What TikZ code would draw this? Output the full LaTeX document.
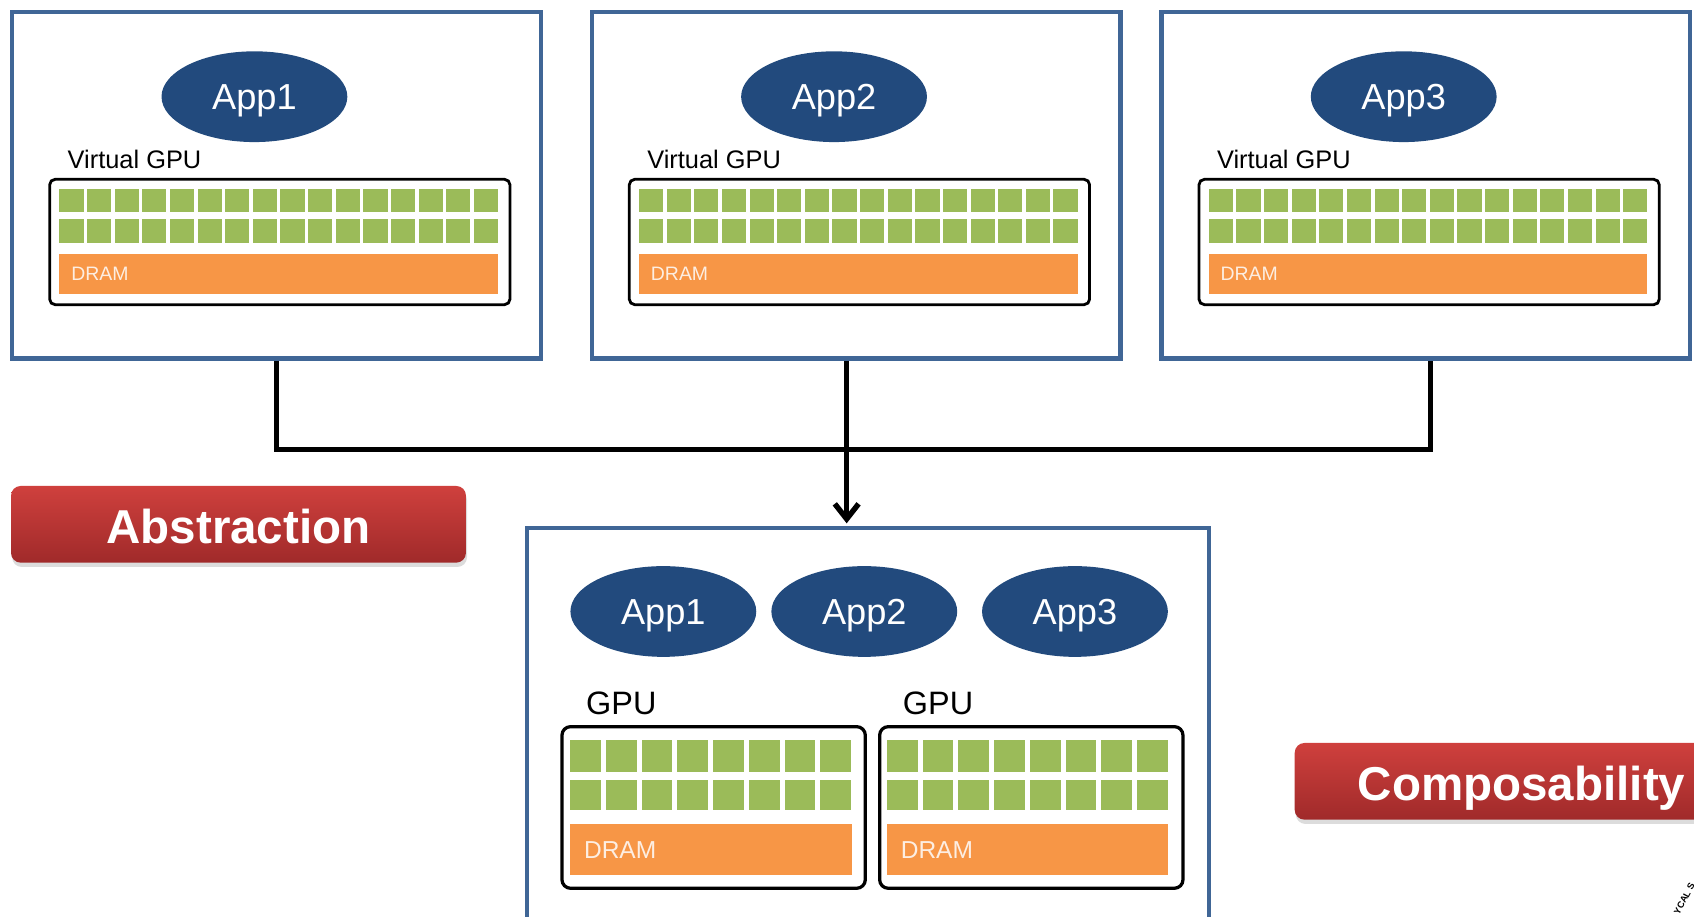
\documentclass[tikz,border=0pt]{standalone}
\usepackage{fontspec}
\setmainfont{Liberation Sans}
\usetikzlibrary{arrows.meta,shapes.geometric,shadows}

\definecolor{boxblue}{RGB}{64,102,150}
\definecolor{appblue}{RGB}{34,74,125}
\definecolor{coregreen}{RGB}{155,187,89}
\definecolor{dramorange}{RGB}{247,150,70}
\definecolor{dramtext}{RGB}{253,238,226}
\definecolor{redtop}{RGB}{207,64,61}
\definecolor{redbot}{RGB}{160,42,42}

\tikzset{
  hostbox/.style={draw=boxblue, line width=4pt, fill=white, inner sep=0pt},
  app/.style={ellipse, fill=appblue, text=white, inner sep=0pt,
    font=\fontsize{33.5}{40}\selectfont, text height=24pt, text depth=0pt,
    minimum width=172pt, minimum height=84pt},
  gpucase/.style={draw=black, fill=white, inner sep=0pt},
  core/.style={fill=coregreen, draw=none},
  dram/.style={fill=dramorange, draw=none, inner sep=0pt},
  dramlabel/.style={anchor=west, text=dramtext, inner sep=0pt},
  gpulabel/.style={anchor=base west, inner sep=0pt},
  conn/.style={line width=5pt, draw=black, line join=miter},
  badge/.style={rounded corners=9pt, top color=redtop, bottom color=redbot,
    text=white, font=\bfseries\fontsize{44}{50}\selectfont,
    minimum height=71pt, text height=35.2pt, text depth=0pt, inner sep=0pt,
    drop shadow={opacity=0.28, shadow xshift=1pt, shadow yshift=-4pt}}
}

\begin{document}
\begin{tikzpicture}[x=1pt, y=-1pt]
\useasboundingbox (0,0) rectangle (1568,848);
\clip (0,0) rectangle (1568,848);

% three virtual machines, each with its own virtual GPU
\foreach \L/\n in {11.2/1, 547.7/2, 1075/3} {
  \node[hostbox, minimum width=489.3pt, minimum height=320.9pt] (vm\n) at (\L+244.65, 171.25) {};
  \node[app] (app\n) at (\L+224.3, 89.5) {App\n};
  \node[gpulabel, font=\fontsize{23.5}{28}\selectfont] (vlab\n) at (\L+51.3, 156) {Virtual GPU};
  \node[gpucase, line width=2.6pt, rounded corners=5pt, minimum width=426pt, minimum height=116pt] (vgpu\n) at (\L+247.8, 224) {};
  \foreach \i in {0,...,15} {
    \fill[core] (\L+43.8+\i*25.575, 175.3) rectangle ++(22.375, 20.9);
    \fill[core] (\L+43.8+\i*25.575, 203.0) rectangle ++(22.375, 21.6);
  }
  \node[dram, minimum width=406pt, minimum height=37.6pt] (vdram\n) at (\L+246.8, 253.6) {};
  \node[dramlabel, font=\fontsize{18}{22}\selectfont] at (\L+54.6, 253.3) {DRAM};
}

% physical host with two GPUs shared by the three apps
\node[hostbox, minimum width=631.5pt, minimum height=380pt] (host) at (803.25, 679) {};
\node[app] (happ1) at (614, 566) {App1};
\node[app] (happ2) at (800, 566) {App2};
\node[app] (happ3) at (995, 566) {App3};

\foreach \L/\m/\cx in {527.6/A/660.55, 820.8/B/954.6} {
  \node[gpulabel, font=\fontsize{30}{36}\selectfont] (glab\m) at (\L+14.8, 661.8) {GPU};
  \node[gpucase, line width=3pt, rounded corners=8pt, minimum width=280.8pt, minimum height=149.6pt] (gpu\m) at (\cx, 747.4) {};
  \foreach \i in {0,...,7} {
    \fill[core] (\L+\i*33.1, 685.0) rectangle ++(28.5, 29.3);
    \fill[core] (\L+\i*33.1, 722.0) rectangle ++(28.5, 27.7);
  }
  \node[dram, minimum width=260.6pt, minimum height=47.2pt] (dram\m) at (\L+130.3, 786.3) {};
  \node[dramlabel, font=\fontsize{22.7}{27}\selectfont] at (\L+12.8, 786.7) {DRAM};
}

% connectors from the virtual machines down to the host
\coordinate (bus) at (783.7, 415.9);
\draw[conn] (vm1.south) |- (bus) -| ([xshift=4.4pt]vm3.south);
\draw[conn, -{Straight Barb[length=14pt, width=22pt]}]
  (vm2.south -| bus) -- ([yshift=2.6pt]host.north -| bus);

% section badges
\node[badge, minimum width=421.1pt] (abs) at (220.75, 485.3) {Abstraction};
\node[badge, minimum width=420pt] (comp) at (1408.4, 723.2) {Composability};

% edge of the seal in the corner
\node[rotate=62, font=\bfseries\fontsize{8.5}{9}\selectfont, inner sep=0pt] (seal) at (1559, 832) {YCAL S};
\end{tikzpicture}
\end{document}
